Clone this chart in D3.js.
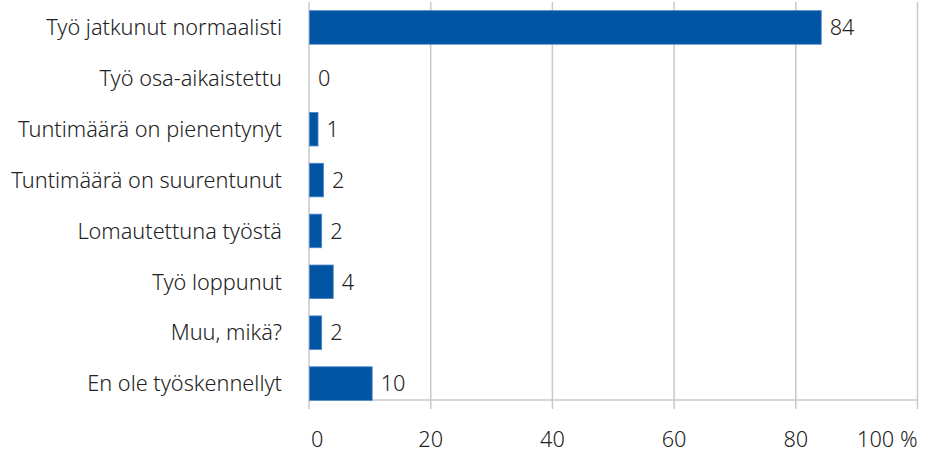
<!DOCTYPE html>
<html>
<head>
<meta charset="utf-8">
<script src="https://cdn.jsdelivr.net/npm/d3@7"></script>
<style>
  body { margin: 0; background: #fff; }
  text { font-family: "Noto Sans", sans-serif; font-weight: 300; fill: #222; }
</style>
</head>
<body>
<svg id="chart" width="932" height="452"></svg>
<script>
var categories = [
    "Työ jatkunut normaalisti",
    "Työ osa-aikaistettu",
    "Tuntimäärä on pienentynyt",
    "Tuntimäärä on suurentunut",
    "Lomautettuna työstä",
    "Työ loppunut",
    "Muu, mikä?",
    "En ole työskennellyt"
];
var values = [84.1, 0, 1.4, 2.3, 2.0, 3.9, 2.0, 10.3];
var labels = ["84", "0", "1", "2", "2", "4", "2", "10"];
var ticks = [0, 20, 40, 60, 80, 100];

var fontSize = 21.7;
var svg = d3.select("#chart");
var x = d3.scaleLinear().domain([0, 100]).range([309, 917.5]);
var y = d3.scaleBand().domain(categories).range([2, 409]).paddingInner(0.34).paddingOuter(0.17);
var axisY = 400;

// gridlines
svg.append("g").selectAll("line").data(ticks).enter().append("line")
    .attr("x1", d => x(d)).attr("x2", d => x(d))
    .attr("y1", 2).attr("y2", 409)
    .attr("stroke", "#c9c9c9").attr("stroke-width", 1.5);

svg.append("line")
    .attr("x1", x(0)).attr("x2", x(100))
    .attr("y1", axisY).attr("y2", axisY)
    .attr("stroke", "#c9c9c9").attr("stroke-width", 1.5);

// bars
svg.append("g").selectAll("rect").data(values).enter().append("rect")
    .attr("x", x(0) + 0.5)
    .attr("y", (d, i) => y(categories[i]))
    .attr("width", d => Math.max(0, x(d) - x(0)))
    .attr("height", y.bandwidth())
    .attr("fill", "#0054a4")
    .attr("stroke", d => d > 0 ? "#4f86c6" : "none")
    .attr("stroke-width", 0.8);

// value labels
svg.append("g").selectAll("text").data(values).enter().append("text")
    .attr("x", d => x(d) + 9)
    .attr("y", (d, i) => y(categories[i]) + y.bandwidth() / 2)
    .attr("dy", "0.36em")
    .attr("font-size", fontSize)
    .text((d, i) => labels[i]);

// category labels
svg.append("g").selectAll("text").data(categories).enter().append("text")
    .attr("x", 282)
    .attr("y", d => y(d) + y.bandwidth() / 2)
    .attr("dy", "0.36em")
    .attr("text-anchor", "end")
    .attr("font-size", fontSize)
    .text(d => d);

// x tick labels
svg.append("g").selectAll("text").data(ticks).enter().append("text")
    .attr("x", (d, i) => i == 0 ? x(d) + 2 : x(d))
    .attr("y", 447)
    .attr("text-anchor", (d, i) => i == 0 ? "start" : (i == ticks.length - 1 ? "end" : "middle"))
    .attr("font-size", fontSize)
    .text((d, i) => i == ticks.length - 1 ? d + " %" : d);
</script>
</body>
</html>
